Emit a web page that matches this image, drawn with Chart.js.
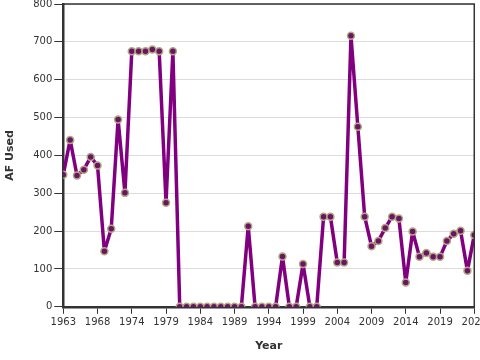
<!DOCTYPE html>
<html lang="en">
    <head>
        <meta charset="UTF-8">
        <title>AF Used by Year</title>
        <script src="https://cdn.jsdelivr.net/npm/chart.js"></script>
        <style>
            html, body { margin: 0; padding: 0; overflow: hidden; background: #fff; }
            #wrap { width: 490px; height: 361px; margin-top: -4px; }
        </style>
    </head>
    <body>
        <div id="wrap"><canvas id="chart"></canvas></div>
        <script>
        // years on the category axis (one year is absent from the record)
        const years = [
            1963, 1964, 1965, 1966, 1967, 1968, 1969, 1971, 1972, 1973,
            1974, 1975, 1976, 1977, 1978, 1979, 1980, 1981, 1982, 1983,
            1984, 1985, 1986, 1987, 1988, 1989, 1990, 1991, 1992, 1993,
            1994, 1995, 1996, 1997, 1998, 1999, 2000, 2001, 2002, 2003,
            2004, 2005, 2006, 2007, 2008, 2009, 2010, 2011, 2012, 2013,
            2014, 2015, 2016, 2017, 2018, 2019, 2020, 2021, 2022, 2023,
            2024
        ];
        const afUsed = [
            349, 441, 347, 362, 396, 373, 147, 206, 495, 301,
            675, 675, 675, 680, 675, 275, 675, 0, 0, 0,
            0, 0, 0, 0, 0, 0, 0, 213, 0, 0,
            0, 0, 133, 0, 0, 113, 0, 0, 238, 238,
            117, 117, 716, 476, 238, 160, 174, 208, 238, 233,
            64, 199, 132, 142, 132, 132, 174, 193, 201, 95,
            190
        ];
        const yTicks = [0, 100, 200, 300, 400, 500, 600, 700, 800];

        const points = afUsed.map((v, i) => ({ x: i, y: v }));
        const font = { family: 'DejaVu Sans', size: 10 };

        const frame = {
            id: 'frame',
            afterDraw(chart) {
                const a = chart.chartArea, c = chart.ctx;
                c.save();
                c.strokeStyle = '#333';
                c.lineWidth = 1.5;
                c.beginPath();
                c.moveTo(a.left, a.top);
                c.lineTo(a.right, a.top);
                c.lineTo(a.right, a.bottom);
                c.stroke();
                c.restore();
            }
        };

        new Chart(document.getElementById('chart'), {
            type: 'line',
            data: {
                datasets: [{
                    label: 'AF Used',
                    data: points,
                    borderColor: '#800080',
                    borderWidth: 3.5,
                    borderJoinStyle: 'round',
                    pointRadius: 3.5,
                    pointBorderWidth: 1.5,
                    pointBackgroundColor: '#6a1466',
                    pointBorderColor: '#b3a882',
                    tension: 0
                }]
            },
            options: {
                responsive: true,
                maintainAspectRatio: false,
                animation: false,
                layout: { padding: { left: 4, right: 0, top: 0, bottom: 4 } },
                plugins: { legend: { display: false }, tooltip: { enabled: false } },
                scales: {
                    x: {
                        type: 'linear',
                        min: 0,
                        max: years.length - 1,
                        afterBuildTicks: s => {
                            s.ticks = years.map((y, i) => ({ value: i })).filter(t => t.value % 5 === 0);
                        },
                        ticks: {
                            color: '#333',
                            font: font,
                            maxRotation: 0,
                            autoSkip: false,
                            padding: 3,
                            callback: v => String(years[v])
                        },
                        grid: { drawOnChartArea: false, tickColor: '#333', tickLength: 7, tickWidth: 1 },
                        border: { color: '#333', width: 2.5 },
                        title: {
                            display: true,
                            text: 'Year',
                            color: '#333',
                            font: { family: 'DejaVu Sans', size: 11, weight: 'bold' },
                            padding: { top: 8, bottom: 0 }
                        }
                    },
                    y: {
                        min: 0,
                        max: 800,
                        afterBuildTicks: s => { s.ticks = yTicks.map(v => ({ value: v })); },
                        ticks: { color: '#333', font: font, padding: 2 },
                        grid: { color: '#dcdcdc', tickColor: '#333', tickLength: 9, lineWidth: 1 },
                        border: { color: '#333', width: 2.5 },
                        title: {
                            display: true,
                            text: 'AF Used',
                            color: '#333',
                            font: { family: 'DejaVu Sans', size: 11, weight: 'bold' },
                            padding: { top: 0, bottom: 14 }
                        }
                    }
                }
            },
            plugins: [frame]
        });
        </script>
    </body>
</html>
